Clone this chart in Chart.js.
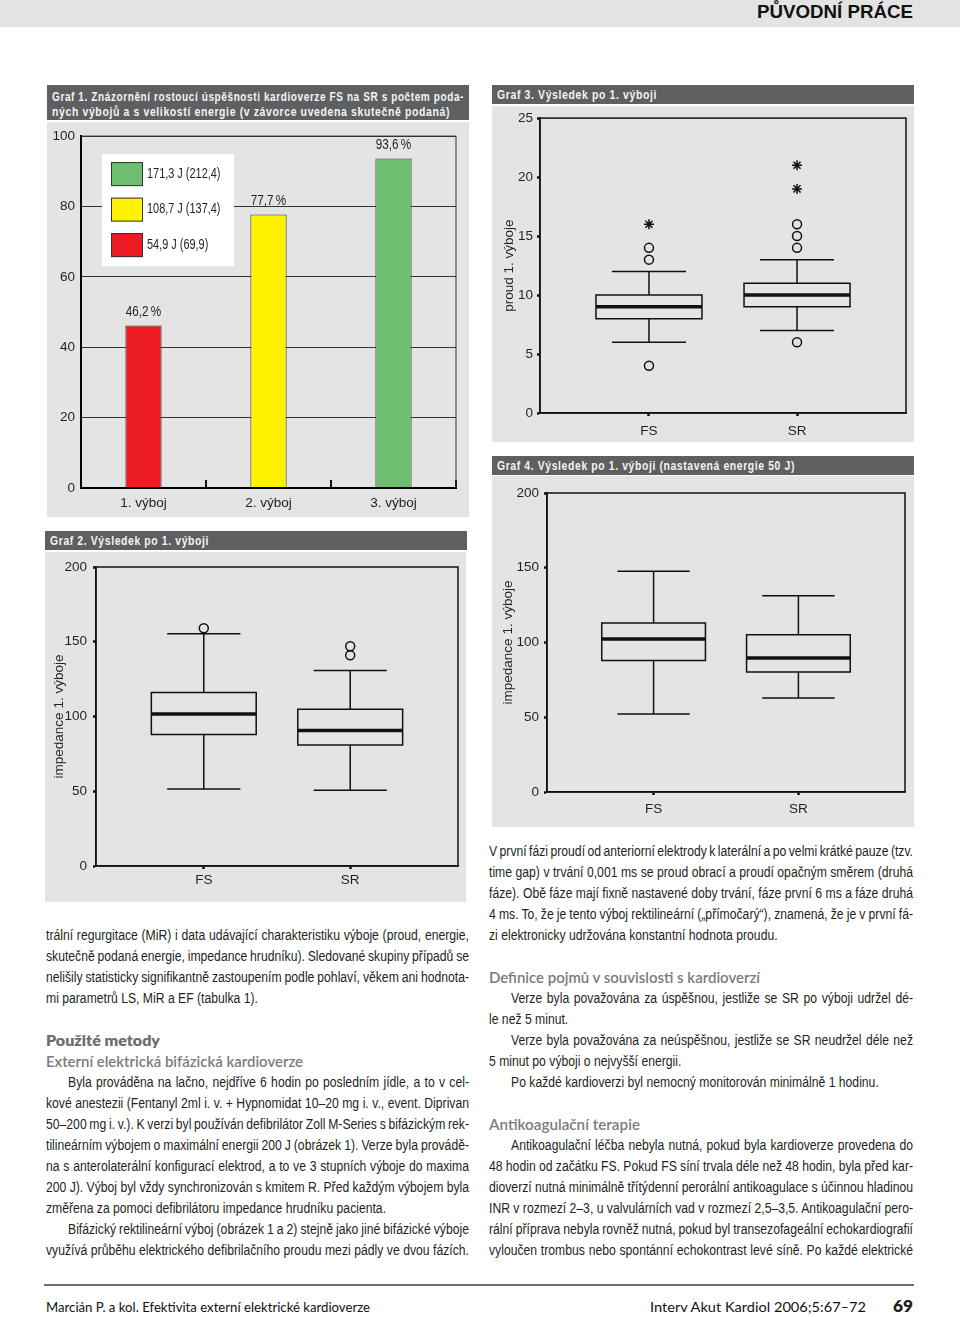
<!DOCTYPE html>
<html lang="cs">
<head>
<meta charset="utf-8">
<title>Původní práce – grafy 1–4</title>
<script src="https://cdn.jsdelivr.net/npm/chart.js@4.4.0/dist/chart.umd.min.js"></script>
<style>
  body { margin: 0; width: 960px; height: 1317px; position: relative; overflow: hidden; background: #fff;
         font-family: 'Liberation Sans Narrow', 'Arial Narrow', 'Liberation Sans', sans-serif; color: #231f20; }
  .abs { position: absolute; }
  .topband { left: 0; top: 0; width: 960px; height: 27px; background: #e2e3e2; }
  .rubrika { left: 757px; top: 1px; font-size: 19px; font-weight: bold; line-height: 22px; color: #111; white-space: nowrap; }
  .bar { background: #5e5f61; color: #f4f4f4; font-weight: bold; font-size: 13.5px; }
  .bar .t { position: absolute; left: 5px; white-space: nowrap; line-height: 15px; letter-spacing: 0.8px; }
  .panel { background: #e3e4e3; }
  .col { font-size: 14px; }
  .ln { height: 21px; line-height: 21px; white-space: nowrap; }
  .ln > span { white-space: nowrap; }
  .ind { padding-left: 22px; }
  .geo { font-family: Lato, 'Noto Sans', sans-serif; white-space: nowrap; }
  .h1 { font-weight: 800; color: #6d6e71; font-size: 14.5px; }
  .h2 { font-weight: 600; color: #7a7b7e; font-size: 14.5px; }
  .foot { font-size: 13px; color: #111; line-height: 16px; }
  .fit { display: inline-block; transform-origin: 0 50%; }
</style>
</head>
<body>
<div class="abs topband"></div>
<div class="abs rubrika fit" data-w="156">PŮVODNÍ PRÁCE</div>

<!-- Graf 1 -->
<div class="abs bar" style="left:47px;top:85px;width:422px;height:35px">
  <div class="t fit" data-w="412" style="top:3.5px">Graf 1. Znázornění rostoucí úspěšnosti kardioverze FS na SR s počtem poda-</div>
  <div class="t fit" data-w="398" style="top:19px">ných výbojů a s velikostí energie (v závorce uvedena skutečně podaná)</div>
</div>
<div class="abs panel" style="left:47px;top:122px;width:422px;height:395px"><canvas id="graf1"></canvas></div>

<!-- Graf 3 -->
<div class="abs bar" style="left:492px;top:85px;width:422px;height:19px">
  <div class="t fit" data-w="160" style="top:2px">Graf 3. Výsledek po 1. výboji</div>
</div>
<div class="abs panel" style="left:492px;top:106px;width:422px;height:336px"><canvas id="graf3"></canvas></div>

<!-- Graf 4 -->
<div class="abs bar" style="left:492px;top:456px;width:422px;height:18.5px">
  <div class="t fit" data-w="298" style="top:1.5px">Graf 4. Výsledek po 1. výboji (nastavená energie 50 J)</div>
</div>
<div class="abs panel" style="left:492px;top:476px;width:422px;height:351px"><canvas id="graf4"></canvas></div>

<!-- Graf 2 -->
<div class="abs bar" style="left:45px;top:531px;width:422px;height:19px">
  <div class="t fit" data-w="159" style="top:2px">Graf 2. Výsledek po 1. výboji</div>
</div>
<div class="abs panel" style="left:45px;top:552px;width:421px;height:350px"><canvas id="graf2"></canvas></div>

<!-- levý sloupec -->
<div class="abs col" style="left:46px;top:924.5px;width:423px">
  <div class="ln j"><span>trální regurgitace (MiR) i data udávající charakteristiku výboje (proud, energie,</span></div>
  <div class="ln j"><span>skutečně podaná energie, impedance hrudníku). Sledované skupiny případů se</span></div>
  <div class="ln j"><span>nelišily statisticky signifikantně zastoupením podle pohlaví, věkem ani hodnota-</span></div>
  <div class="ln"><span>mi parametrů LS, MiR a EF (tabulka 1).</span></div>
  <div class="ln"></div>
  <div class="ln"><span class="geo h1 fit" data-w="114">Použité metody</span></div>
  <div class="ln"><span class="geo h2 fit" data-w="257">Externí elektrická bifázická kardioverze</span></div>
  <div class="ln j ind"><span>Byla prováděna na lačno, nejdříve 6 hodin po posledním jídle, a to v cel-</span></div>
  <div class="ln j"><span>kové anestezii (Fentanyl 2ml i. v. + Hypnomidat 10–20 mg i. v., event. Diprivan</span></div>
  <div class="ln j"><span>50–200 mg i. v.). K verzi byl používán defibrilátor Zoll M-Series s bifázickým rek-</span></div>
  <div class="ln j"><span>tilineárním výbojem o maximální energii 200 J (obrázek 1). Verze byla provádě-</span></div>
  <div class="ln j"><span>na s anterolaterální konfigurací elektrod, a to ve 3 stupních výboje do maxima</span></div>
  <div class="ln j"><span>200 J). Výboj byl vždy synchronizován s kmitem R. Před každým výbojem byla</span></div>
  <div class="ln"><span>změřena za pomoci defibrilátoru impedance hrudníku pacienta.</span></div>
  <div class="ln j ind"><span>Bifázický rektilineární výboj (obrázek 1 a 2) stejně jako jiné bifázické výboje</span></div>
  <div class="ln j"><span>využívá průběhu elektrického defibrilačního proudu mezi pádly ve dvou fázích.</span></div>
</div>

<!-- pravý sloupec -->
<div class="abs col" style="left:489px;top:840.5px;width:424px">
  <div class="ln j"><span>V první fázi proudí od anteriorní elektrody k laterální a po velmi krátké pauze (tzv.</span></div>
  <div class="ln j"><span>time gap) v trvání 0,001 ms se proud obrací a proudí opačným směrem (druhá</span></div>
  <div class="ln j"><span>fáze). Obě fáze mají fixně nastavené doby trvání, fáze první 6 ms a fáze druhá</span></div>
  <div class="ln j"><span>4 ms. To, že je tento výboj rektilineární („přímočarý“), znamená, že je v první fá-</span></div>
  <div class="ln"><span>zi elektronicky udržována konstantní hodnota proudu.</span></div>
  <div class="ln"></div>
  <div class="ln"><span class="geo h2 fit" data-w="271">Definice pojmů v souvislosti s kardioverzí</span></div>
  <div class="ln j ind"><span>Verze byla považována za úspěšnou, jestliže se SR po výboji udržel dé-</span></div>
  <div class="ln"><span>le než 5 minut.</span></div>
  <div class="ln j ind"><span>Verze byla považována za neúspěšnou, jestliže se SR neudržel déle než</span></div>
  <div class="ln"><span>5 minut po výboji o nejvyšší energii.</span></div>
  <div class="ln ind"><span>Po každé kardioverzi byl nemocný monitorován minimálně 1 hodinu.</span></div>
  <div class="ln"></div>
  <div class="ln"><span class="geo h2 fit" data-w="151">Antikoagulační terapie</span></div>
  <div class="ln j ind"><span>Antikoagulační léčba nebyla nutná, pokud byla kardioverze provedena do</span></div>
  <div class="ln j"><span>48 hodin od začátku FS. Pokud FS síní trvala déle než 48 hodin, byla před kar-</span></div>
  <div class="ln j"><span>dioverzí nutná minimálně třítýdenní perorální antikoagulace s účinnou hladinou</span></div>
  <div class="ln j"><span>INR v rozmezí 2–3, u valvulárních vad v rozmezí 2,5–3,5. Antikoagulační pero-</span></div>
  <div class="ln j"><span>rální příprava nebyla rovněž nutná, pokud byl transezofageální echokardiografií</span></div>
  <div class="ln j"><span>vyloučen trombus nebo spontánní echokontrast levé síně. Po každé elektrické</span></div>
</div>

<!-- pata -->
<div class="abs" style="left:44px;top:1284px;width:870px;height:2px;background:#6d6e71"></div>
<div class="abs geo foot fit" data-w="324" style="left:46px;top:1299px">Marcián P. a kol. Efektivita externí elektrické kardioverze</div>
<div class="abs geo foot fit" data-w="216" style="left:650px;top:1299px">Interv Akut Kardiol 2006;5:67–72</div>
<div class="abs geo fit" data-w="20" style="left:893px;top:1296px;font-size:17px;font-weight:800;line-height:20px">69</div>

<script>
// Graf 1 – úspěšnost podle výboje
const shockLabels = ['1. výboj', '2. výboj', '3. výboj'];
const successRate = [46.2, 77.7, 93.6];
const energyLabels = ['54,9 J (69,9)', '108,7 J (137,4)', '171,3 J (212,4)'];
const rateTicks = [0, 20, 40, 60, 80, 100];

// Grafy 2–4 – krabicové grafy: [min, Q1, medián, Q3, max]
const groups = ['FS', 'SR'];
const proudFS = [6, 8, 9, 10, 12];
const proudSR = [7, 9, 10, 11, 13];
const proudOutFS = [4, 13, 14];
const proudOutSR = [6, 14, 15, 16];
const proudExtFS = [16];
const proudExtSR = [19, 21];
const proudTicks = [0, 5, 10, 15, 20, 25];

const impFS = [51.5, 88, 101.7, 116, 155.3];
const impSR = [50.7, 81, 90.7, 104.8, 130.7];
const impOutFS = [159];
const impOutSR = [141, 147];

const imp50FS = [52.2, 88, 102.3, 113, 147.6];
const imp50SR = [62.9, 80.3, 89.6, 105.2, 131.3];
const impTicks = [0, 50, 100, 150, 200];

const barColors = ['#ec1c24', '#fff200', '#6dbf6f'];
const NARROW = "'Liberation Sans Narrow', 'Arial Narrow', 'Liberation Sans', sans-serif";
const INK = '#231f20';
const SQUEEZE = 0.78; // zúžení textu kresleného vlastními pluginy

Chart.defaults.font.family = NARROW;
Chart.defaults.font.size = 13.5;
Chart.defaults.color = INK;
Chart.defaults.animation = false;
Chart.defaults.events = [];
Chart.defaults.plugins.legend.display = false;
Chart.defaults.plugins.tooltip.enabled = false;

const fixWidth = w => s => { s.width = w; };
const fixHeight = h => s => { s.height = h; };
const useTicks = arr => s => { s.ticks = arr.map(v => ({ value: v })); };

function narrowText(ctx, text, x, y) {
  ctx.save();
  ctx.translate(x, y);
  ctx.scale(SQUEEZE, 1);
  ctx.fillText(text, 0, 0);
  ctx.restore();
}

// rámeček kolem plochy grafu
const frame = {
  id: 'frame',
  beforeDatasetsDraw(chart, args, opts) {
    const { ctx, chartArea: a } = chart;
    ctx.save();
    ctx.strokeStyle = opts.color || '#000';
    ctx.lineWidth = opts.width || 1.5;
    ctx.strokeRect(a.left, a.top, a.right - a.left, a.bottom - a.top);
    ctx.restore();
  }
};

// legenda uvnitř grafu 1 (bílé pozadí přerušuje mřížku)
const legendInside = {
  id: 'legendInside',
  afterDatasetsDraw(chart) {
    const { ctx, chartArea: a } = chart;
    ctx.save();
    ctx.fillStyle = '#fff';
    ctx.fillRect(a.left + 21, a.top + 18, 132, 112);
    ctx.font = '14px ' + NARROW;
    ctx.textBaseline = 'middle';
    for (let k = 0; k < energyLabels.length; k++) {
      const i = energyLabels.length - 1 - k;
      const y = a.top + 26 + k * 35.5;
      ctx.fillStyle = barColors[i];
      ctx.fillRect(a.left + 30, y, 32, 24);
      ctx.strokeStyle = '#333';
      ctx.lineWidth = 1;
      ctx.strokeRect(a.left + 30.5, y + 0.5, 31, 23);
      ctx.fillStyle = INK;
      narrowText(ctx, energyLabels[i], a.left + 66, y + 12);
    }
    ctx.restore();
  }
};

// popisky hodnot nad sloupci
const valueLabels = {
  id: 'valueLabels',
  afterDatasetsDraw(chart) {
    const ctx = chart.ctx;
    ctx.save();
    ctx.font = '15px ' + NARROW;
    ctx.fillStyle = INK;
    ctx.textAlign = 'center';
    ctx.textBaseline = 'middle';
    chart.getDatasetMeta(0).data.forEach((bar, i) => {
      narrowText(ctx, successRate[i].toFixed(1).replace('.', ',') + '\u2009%', bar.x, bar.y - 14);
    });
    ctx.restore();
  }
};

new Chart(document.getElementById('graf1'), {
  type: 'bar',
  data: {
    labels: shockLabels,
    datasets: [{
      data: successRate,
      backgroundColor: barColors,
      borderColor: '#333',
      borderWidth: 1,
      barPercentage: 0.29,
      categoryPercentage: 1
    }]
  },
  options: {
    responsive: true,
    maintainAspectRatio: false,
    layout: { padding: { top: 10, right: 13, left: 0, bottom: 0 } },
    scales: {
      x: {
        grid: { offset: true, drawOnChartArea: false, tickLength: -8, color: '#111', lineWidth: 2 },
        border: { color: '#000', width: 2, z: 1 },
        ticks: { padding: 15 },
        afterFit: fixHeight(29)
      },
      y: {
        min: 0, max: 100,
        afterBuildTicks: useTicks(rateTicks),
        ticks: { padding: 6 },
        grid: { drawTicks: false, color: '#333', lineWidth: 1 },
        border: { color: '#000', width: 2, z: 1 },
        afterFit: fixWidth(34)
      }
    },
    plugins: { frame: { color: '#333', width: 1 } }
  },
  plugins: [frame, legendInside, valueLabels]
});

// krabicové grafy skládané z čar a bodů
const BOX_W = 0.358, CAP_W = 0.25, X_PAD = 0.736;

function boxDatasets(stats, x) {
  const [lo, q1, med, q3, hi] = stats;
  const line = { showLine: true, pointRadius: 0, borderColor: '#111', borderWidth: 1.5, borderCapStyle: 'square' };
  return [
    { ...line, data: [{ x: x - BOX_W, y: q1 }, { x: x + BOX_W, y: q1 }, { x: x + BOX_W, y: q3 }, { x: x - BOX_W, y: q3 }, { x: x - BOX_W, y: q1 }] },
    { ...line, borderWidth: 3.5, borderCapStyle: 'butt', data: [{ x: x - BOX_W, y: med }, { x: x + BOX_W, y: med }] },
    { ...line, borderCapStyle: 'butt', data: [
      { x, y: q3 }, { x, y: hi }, { x, y: null },
      { x: x - CAP_W, y: hi }, { x: x + CAP_W, y: hi }, { x, y: null },
      { x, y: q1 }, { x, y: lo }, { x, y: null },
      { x: x - CAP_W, y: lo }, { x: x + CAP_W, y: lo }
    ] }
  ];
}

function pointDataset(values, x, style) {
  return {
    data: values.map(y => ({ x, y })),
    showLine: false,
    pointStyle: style,
    pointRadius: style === 'star' ? 5 : 4.5,
    pointBorderColor: '#111',
    pointBackgroundColor: 'rgba(0,0,0,0)',
    pointBorderWidth: 1.5
  };
}

function boxChart(id, cfg) {
  const datasets = [];
  cfg.stats.forEach((s, i) => datasets.push(...boxDatasets(s, i + 1)));
  (cfg.outliers || []).forEach((o, i) => { if (o.length) datasets.push(pointDataset(o, i + 1, 'circle')); });
  (cfg.extremes || []).forEach((o, i) => { if (o.length) datasets.push(pointDataset(o, i + 1, 'star')); });
  return new Chart(document.getElementById(id), {
    type: 'scatter',
    data: { datasets },
    options: {
      responsive: true,
      maintainAspectRatio: false,
      layout: { padding: { top: cfg.top, right: cfg.right, left: 0, bottom: 0 } },
      scales: {
        x: {
          type: 'linear',
          min: 1 - X_PAD, max: groups.length + X_PAD,
          afterBuildTicks: s => { s.ticks = groups.map((g, i) => ({ value: i + 1 })); },
          ticks: { callback: v => groups[v - 1], padding: cfg.xPad },
          grid: { drawOnChartArea: false, tickLength: 3, tickWidth: 2.5, color: '#111' },
          border: { color: '#111', width: 1.5 },
          afterFit: fixHeight(cfg.xH)
        },
        y: {
          min: 0, max: cfg.ticks[cfg.ticks.length - 1],
          afterBuildTicks: useTicks(cfg.ticks),
          ticks: { padding: cfg.yPad },
          grid: { drawOnChartArea: false, tickLength: 3, tickWidth: 2.5, color: '#111' },
          border: { color: '#111', width: 1.5 },
          title: { display: true, text: cfg.yTitle, padding: { top: cfg.titlePad, bottom: 0 } },
          afterFit: fixWidth(cfg.yW)
        }
      },
      plugins: { frame: { color: '#111', width: 1.5 } }
    },
    plugins: [frame]
  });
}

boxChart('graf3', {
  stats: [proudFS, proudSR], outliers: [proudOutFS, proudOutSR], extremes: [proudExtFS, proudExtSR],
  ticks: proudTicks, yTitle: 'proud 1. výboje',
  top: 12, right: 8, yW: 48, xH: 29, xPad: 7, yPad: 4, titlePad: 9.5
});

boxChart('graf2', {
  stats: [impFS, impSR], outliers: [impOutFS, impOutSR],
  ticks: impTicks, yTitle: 'impedance 1. výboje',
  top: 15, right: 8, yW: 51, xH: 36, xPad: 3, yPad: 6, titlePad: 6.5
});

boxChart('graf4', {
  stats: [imp50FS, imp50SR],
  ticks: impTicks, yTitle: 'impedance 1. výboje',
  top: 17, right: 9, yW: 55, xH: 35, xPad: 6.3, yPad: 5, titlePad: 8.5
});

// sazba textu: zúžené písmo, řádky do bloku, nadpisy na šířku
function typeset() {
  const lines = [...document.querySelectorAll('.ln > span:not(.geo)')].map(s => {
    const p = s.parentNode;
    return {
      s,
      avail: p.clientWidth - parseFloat(getComputedStyle(p).paddingLeft),
      w: s.getBoundingClientRect().width,
      j: p.classList.contains('j')
    };
  });
  const ratios = lines.filter(o => o.j).map(o => o.avail / o.w).sort((a, b) => a - b);
  const S = ratios[Math.floor(ratios.length / 2)];
  lines.forEach(o => {
    o.s.style.display = 'inline-block';
    o.s.style.transformOrigin = '0 50%';
    o.s.style.transform = 'scaleX(' + S + ')';
    const n = (o.s.textContent.match(/ /g) || []).length;
    if (o.j && n) o.s.style.wordSpacing = ((o.avail / S - o.w) / n) + 'px';
  });
  document.querySelectorAll('.fit[data-w]').forEach(el => {
    const w = el.getBoundingClientRect().width;
    el.style.transform = 'scaleX(' + (parseFloat(el.dataset.w) / w) + ')';
  });
}
if (document.fonts && document.fonts.ready) document.fonts.ready.then(typeset); else typeset();
</script>
</body>
</html>
